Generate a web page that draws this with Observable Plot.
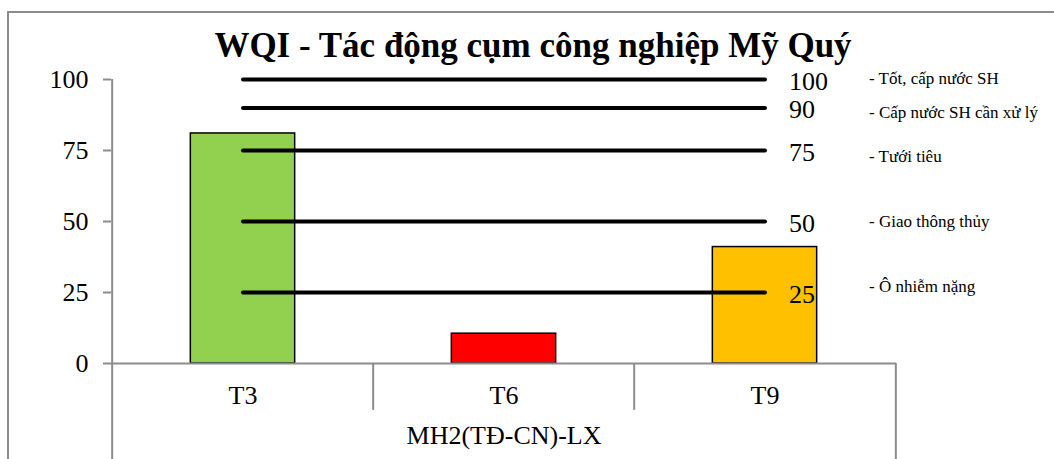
<!DOCTYPE html>
<html><head><meta charset="utf-8">
<script src="https://cdn.jsdelivr.net/npm/d3@7"></script>
<script src="https://cdn.jsdelivr.net/npm/@observablehq/plot@0.6"></script>
<style>
body{margin:0;overflow:hidden;background:#fff;width:1054px;height:459px;position:relative}
#frame{position:absolute;left:7px;top:11px;width:1100px;height:500px;border:2px solid #8c8c8c;box-sizing:border-box}
#chart{position:absolute;left:0;top:0}
</style></head><body>
<div id="frame"></div><div id="chart"></div>
<script>
const title = "WQI - Tác động cụm công nghiệp Mỹ Quý";
const groupLabel = "MH2(TĐ-CN)-LX";
const months = ["T3", "T6", "T9"];
const wqi = [81, 10.5, 41];
const barColors = ["#92d050", "#ff0000", "#ffc000"];
const levels = [100, 90, 75, 50, 25];
const yTicks = [0, 25, 50, 75, 100];
const legendLabels = ["- Tốt, cấp nước SH", "- Cấp nước SH cần xử lý", "- Tưới tiêu", "- Giao thông thủy", "- Ô nhiễm nặng"];
const legendAt = [100.5, 88.5, 73, 50, 27];

const W = 1054, H = 459, ML = 111, MR = 158, MT = 79, MB = 96;
const bw = (W - ML - MR) / months.length;
const barW = 105;
const serif = "'Liberation Serif', 'Times New Roman', serif";
const gray = "#8c8c8c";
const first = months[0], last = months[months.length - 1];

const bars = months.map((m, i) => ({m, v: wqi[i], c: barColors[i]}));
const legend = legendLabels.map((t, i) => ({t, y: legendAt[i]}));

const chart = Plot.plot({
  width: W, height: H,
  marginLeft: ML, marginRight: MR, marginTop: MT, marginBottom: MB,
  style: {fontFamily: serif, fontSize: "26px", background: "transparent", color: "#000"},
  x: {type: "band", domain: months, padding: 0},
  y: {domain: [0, 100]},
  marks: [
    Plot.ruleX([first], {x: d => d, dx: -bw / 2, y1: 100, y2: -34, stroke: gray, strokeWidth: 2}),
    Plot.ruleX(months.slice(1), {x: d => d, dx: -bw / 2, y1: 0, y2: -16.5, stroke: gray, strokeWidth: 2}),
    Plot.ruleX([last], {x: d => d, dx: bw / 2, y1: 0, y2: -34, stroke: gray, strokeWidth: 2}),
    Plot.axisY({ticks: yTicks, tickSize: 8, tickPadding: 15, stroke: gray, strokeWidth: 2, fill: "#000", fontSize: 26, fontFamily: serif, label: null}),
    Plot.axisX({tickSize: 0, tickPadding: 22, fill: "#000", fontSize: 26, fontFamily: serif, label: null}),
    Plot.barY(bars, {x: "m", y: "v", fill: "c", stroke: "#000", strokeWidth: 1.5, insetLeft: (bw - barW) / 2, insetRight: (bw - barW) / 2}),
    Plot.ruleY([0], {stroke: gray, strokeWidth: 2}),
    Plot.link(levels, {x1: () => first, x2: () => last, y1: d => d, y2: d => d, stroke: "#000", strokeWidth: 4, strokeLinecap: "round"}),
    Plot.text(levels, {y: d => d, x: () => last, text: d => String(d), dx: 24, dy: 2, textAnchor: "start", fontSize: 26, fontFamily: serif, fill: "#000"}),
    Plot.text(legend, {y: "y", x: () => last, text: "t", dx: 104, textAnchor: "start", fontSize: 17, fontFamily: serif, fill: "#000"}),
    Plot.text([title], {frameAnchor: "top", dx: 29, dy: -47, fontSize: 35, fontWeight: "bold", fontFamily: serif, fill: "#000"}),
    Plot.text([groupLabel], {frameAnchor: "bottom", dy: 80.7, fontSize: 26, fontFamily: serif, fill: "#000"})
  ]
});
document.getElementById("chart").appendChild(chart);
</script>
</body></html>
